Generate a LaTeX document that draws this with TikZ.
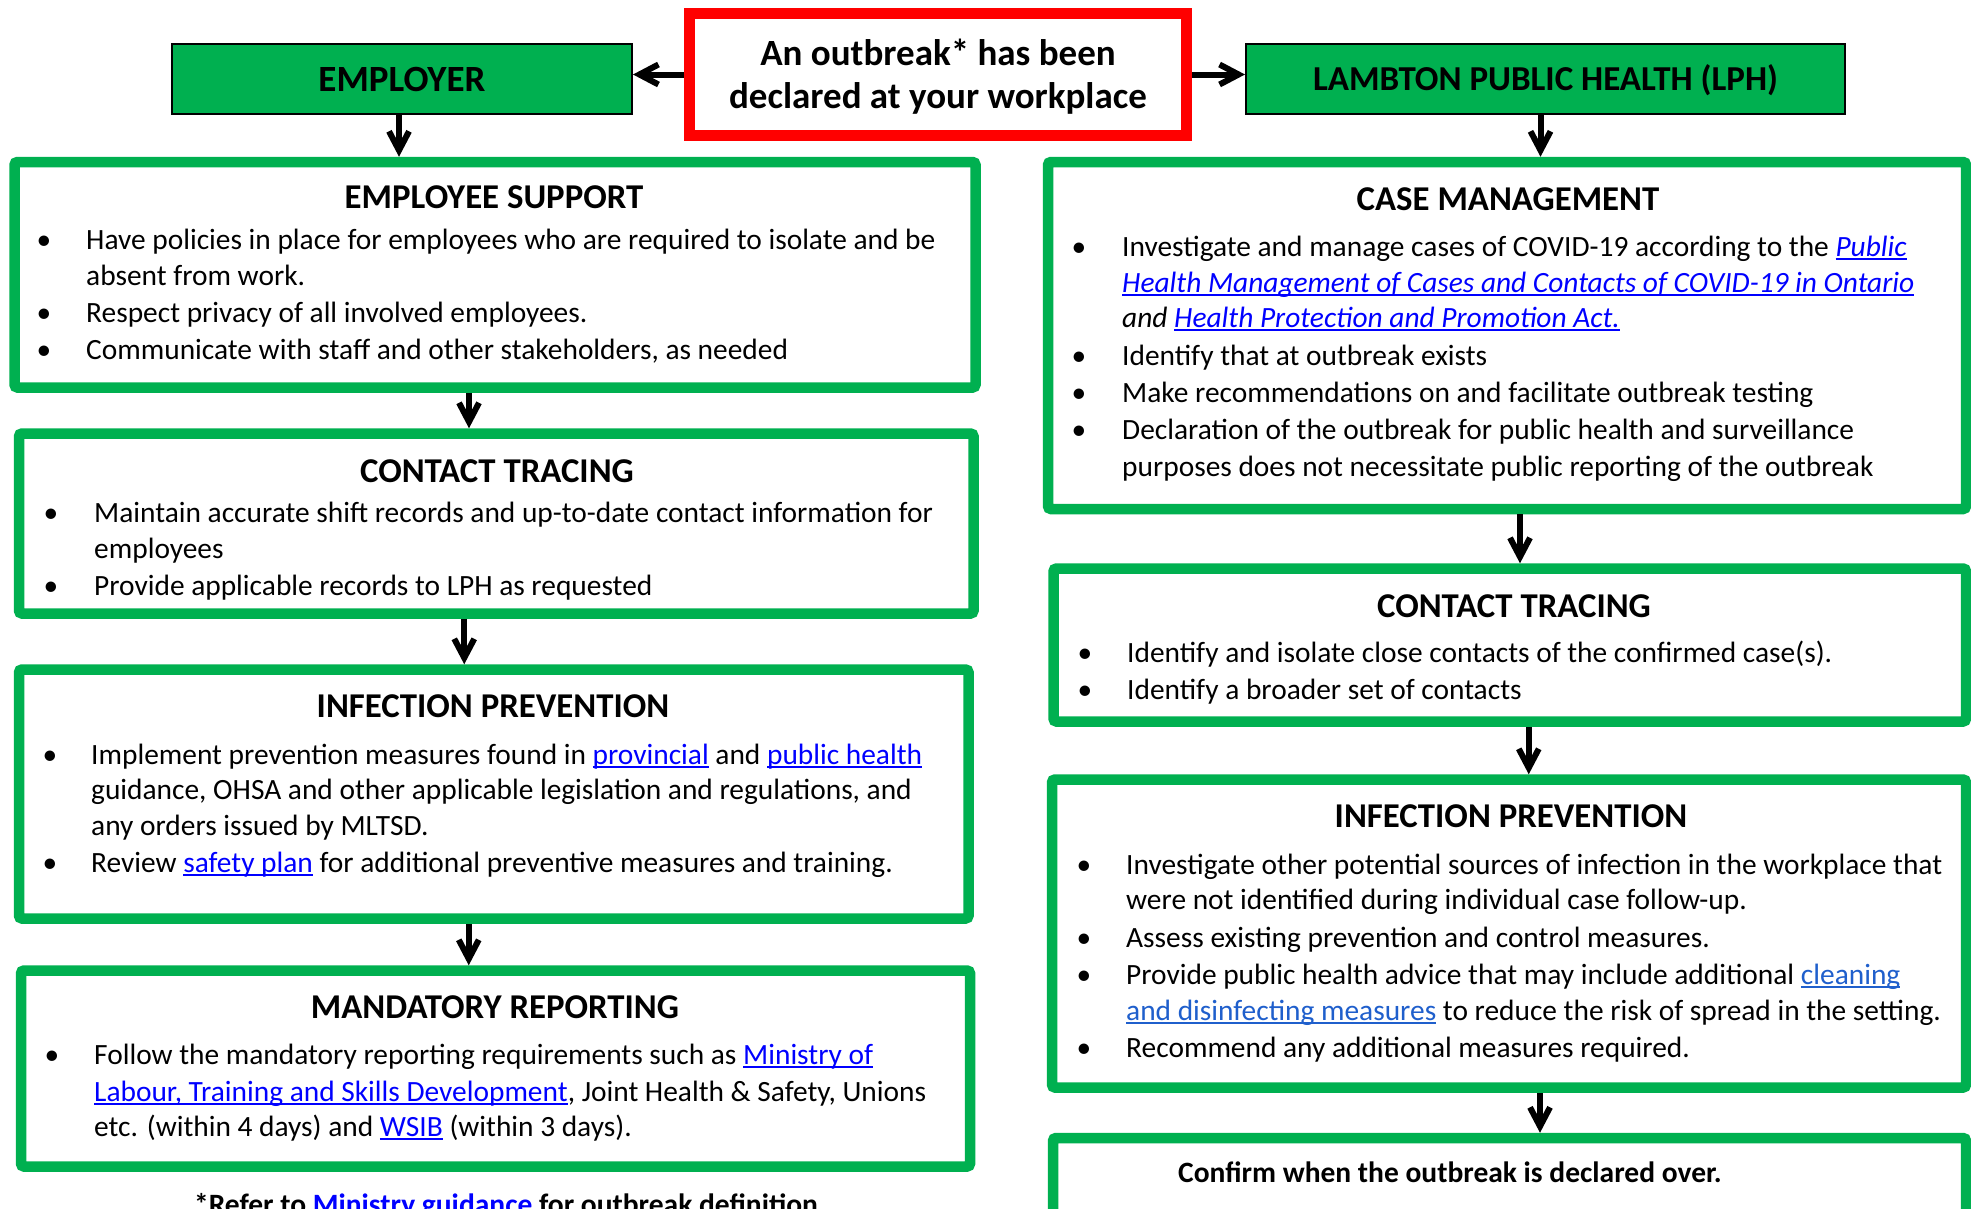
\documentclass[tikz,border=0pt]{standalone}
\usepackage{fontspec}
\setmainfont{Carlito}
\usetikzlibrary{arrows.meta}
\definecolor{offgreen}{HTML}{00B050}
\definecolor{lnkblue}{HTML}{0000FF}
\definecolor{lnkbluetwo}{HTML}{1F5FCC}
\newsavebox\lkbox
\newcommand\lk[1]{{\color{lnkblue}\sbox\lkbox{#1}\rlap{\rule[-3.8pt]{\wd\lkbox}{1.8pt}}\usebox\lkbox}}
\newcommand\lkb[1]{{\color{lnkbluetwo}\sbox\lkbox{#1}\rlap{\rule[-3.8pt]{\wd\lkbox}{1.8pt}}\usebox\lkbox}}
\begin{document}
\begin{tikzpicture}[x=1pt,y=-1pt,
  gbox/.style={draw=offgreen, line width=10.5pt, rounded corners=3pt, fill=white, inner sep=0pt},
  hbox/.style={draw=black, line width=2pt, fill=offgreen, inner sep=0pt},
  rbox/.style={draw=red, line width=11pt, fill=white, inner sep=0pt},
  body/.style={anchor=base west, inner sep=0pt, font=\fontsize{29.4}{34}\selectfont},
  bul/.style={anchor=base, inner sep=0pt, font=\fontsize{29.4}{34}\selectfont},
  ttl/.style={anchor=base, inner sep=0pt, font=\bfseries\fontsize{34.8}{40}\selectfont},
  big/.style={anchor=base, inner sep=0pt, font=\bfseries\fontsize{37}{40}\selectfont},
  bodyb/.style={anchor=base, inner sep=0pt, font=\bfseries\fontsize{29.5}{34}\selectfont},
  arr/.style={line width=6pt, -{Straight Barb[length=19pt,width=20pt]}}]
\useasboundingbox (0,0) rectangle (1971,1208);
\fill[white] (0,0) rectangle (1971,1208);

% top boxes
\node[rbox, minimum width=497pt, minimum height=122pt] (red) at (938,74.5) {};
\node[hbox, minimum width=460pt, minimum height=70pt] (emp) at (402,79) {};
\node[hbox, minimum width=599pt, minimum height=70pt] (lph) at (1545.5,79) {};
\node[big] (redA) at (938,65) {An outbreak* has been};
\node[big] (redB) at (938,108) {declared at your workplace};
\node[big] (empT) at (402,91) {EMPLOYER};
\node[big, font=\bfseries\fontsize{35}{40}\selectfont] (lphT) at (1545.5,90) {LAMBTON PUBLIC HEALTH (LPH)};

% left column boxes
\node[gbox, minimum width=961pt, minimum height=225.5pt] (es) at (495,274.75) {};
\node[gbox, minimum width=954.5pt, minimum height=180pt] (ctl) at (496.25,523.5) {};
\node[gbox, minimum width=949.5pt, minimum height=249pt] (ipl) at (493.75,794) {};
\node[gbox, minimum width=949pt, minimum height=196pt] (mr) at (495.5,1068.5) {};

% right column boxes
\node[gbox, minimum width=918pt, minimum height=347pt] (cm) at (1507,335.5) {};
\node[gbox, minimum width=912.5pt, minimum height=153pt] (ctr) at (1509.75,645) {};
\node[gbox, minimum width=914pt, minimum height=308pt] (ipr) at (1509,933.5) {};
\node[gbox, minimum width=913pt, minimum height=92pt] (conf) at (1509.5,1184) {};

% arrows
\draw[arr] (red.west) -- (red.west -| emp.east);
\draw[arr] (red.east) -- (red.east -| lph.west);
\draw[arr] ([xshift=-3pt]emp.south) -- ([xshift=-3pt]emp.south |- es.north);
\draw[arr] ([xshift=-5pt]lph.south) -- ([xshift=-5pt]lph.south |- cm.north);
\draw[arr] ([xshift=-26pt]es.south) -- ([xshift=-26pt]es.south |- ctl.north);
\draw[arr] ([xshift=-32pt]ctl.south) -- ([xshift=-32pt]ctl.south |- ipl.north);
\draw[arr] ([xshift=-25pt]ipl.south) -- ([xshift=-25pt]ipl.south |- mr.north);
\draw[arr] ([xshift=13pt]cm.south) -- ([xshift=13pt]cm.south |- ctr.north);
\draw[arr] ([xshift=19pt]ctr.south) -- ([xshift=19pt]ctr.south |- ipr.north);
\draw[arr] ([xshift=31pt]ipr.south) -- ([xshift=31pt]ipr.south |- conf.north);

% EMPLOYEE SUPPORT
\node[ttl] (esT) at (494,208) {EMPLOYEE SUPPORT};
\node[bul] (esb1) at (44,249) {•};
\node[bul] (esb2) at (44,322) {•};
\node[bul] (esb3) at (44,359) {•};
\node[body] (es1) at (86,249) {Have policies in place for employees who are required to isolate and be};
\node[body] (es2) at (86,285) {absent from work.};
\node[body] (es3) at (86,322) {Respect privacy of all involved employees.};
\node[body] (es4) at (86,359) {Communicate with staff and other stakeholders, as needed};

% CONTACT TRACING left
\node[ttl] (ctlT) at (497,482) {CONTACT TRACING};
\node[bul] (ctlb1) at (51,522) {•};
\node[bul] (ctlb2) at (51,595) {•};
\node[body] (ctl1) at (94,522) {Maintain accurate shift records and up-to-date contact information for};
\node[body] (ctl2) at (94,558) {employees};
\node[body] (ctl3) at (94,595) {Provide applicable records to LPH as requested};

% INFECTION PREVENTION left
\node[ttl] (iplT) at (493,717) {INFECTION PREVENTION};
\node[bul] (iplb1) at (50,764) {•};
\node[bul] (iplb2) at (50,872) {•};
\node[body] (ipl1) at (91,764) {Implement prevention measures found in \lk{provincial} and \lk{public health}};
\node[body] (ipl2) at (91,799) {guidance, OHSA and other applicable legislation and regulations, and};
\node[body] (ipl3) at (91,835) {any orders issued by MLTSD.};
\node[body] (ipl4) at (91,872) {Review \lk{safety plan} for additional preventive measures and training.};

% MANDATORY REPORTING
\node[ttl] (mrT) at (495,1018) {MANDATORY REPORTING};
\node[bul] (mrb1) at (52,1064) {•};
\node[body] (mr1) at (94,1064) {Follow the mandatory reporting requirements such as \lk{Ministry of}};
\node[body] (mr2) at (94,1101) {\lk{Labour, Training and Skills Development}, Joint Health \& Safety, Unions};
\node[body] (mr3) at (94,1136) {etc. (within 4 days) and \lk{WSIB} (within 3 days).};

% footnote
\node[bodyb] (foot) at (506,1214) {*Refer to \lk{Ministry guidance} for outbreak definition};

% CASE MANAGEMENT
\node[ttl] (cmT) at (1508,210) {CASE MANAGEMENT};
\node[bul] (cmb1) at (1079,256) {•};
\node[bul] (cmb2) at (1079,365) {•};
\node[bul] (cmb3) at (1079,402) {•};
\node[bul] (cmb4) at (1079,439) {•};
\node[body] (cm1) at (1122,256) {Investigate and manage cases of COVID-19 according to the \lk{\textit{Public}}};
\node[body] (cm2) at (1122,292) {\lk{\textit{Health Management of Cases and Contacts of COVID-19 in Ontario}}};
\node[body] (cm3) at (1122,327) {\textit{and} \lk{\textit{Health Protection and Promotion Act.}}};
\node[body] (cm4) at (1122,365) {Identify that at outbreak exists};
\node[body] (cm5) at (1122,402) {Make recommendations on and facilitate outbreak testing};
\node[body] (cm6) at (1122,439) {Declaration of the outbreak for public health and surveillance};
\node[body] (cm7) at (1122,476) {purposes does not necessitate public reporting of the outbreak};

% CONTACT TRACING right
\node[ttl] (ctrT) at (1514,617) {CONTACT TRACING};
\node[bul] (ctrb1) at (1085,662) {•};
\node[bul] (ctrb2) at (1085,699) {•};
\node[body] (ctr1) at (1127,662) {Identify and isolate close contacts of the confirmed case(s).};
\node[body] (ctr2) at (1127,699) {Identify a broader set of contacts};

% INFECTION PREVENTION right
\node[ttl] (iprT) at (1511,827) {INFECTION PREVENTION};
\node[bul] (iprb1) at (1084,874) {•};
\node[bul] (iprb2) at (1084,947) {•};
\node[bul] (iprb3) at (1084,984) {•};
\node[bul] (iprb4) at (1084,1057) {•};
\node[body] (ipr1) at (1126,874) {Investigate other potential sources of infection in the workplace that};
\node[body] (ipr2) at (1126,909) {were not identified during individual case follow-up.};
\node[body] (ipr3) at (1126,947) {Assess existing prevention and control measures.};
\node[body] (ipr4) at (1126,984) {Provide public health advice that may include additional \lkb{cleaning}};
\node[body] (ipr5) at (1126,1020) {\lkb{and disinfecting measures} to reduce the risk of spread in the setting.};
\node[body] (ipr6) at (1126,1057) {Recommend any additional measures required.};

% confirm
\node[bodyb] (confT) at (1450,1182) {Confirm when the outbreak is declared over.};
\end{tikzpicture}
\end{document}
